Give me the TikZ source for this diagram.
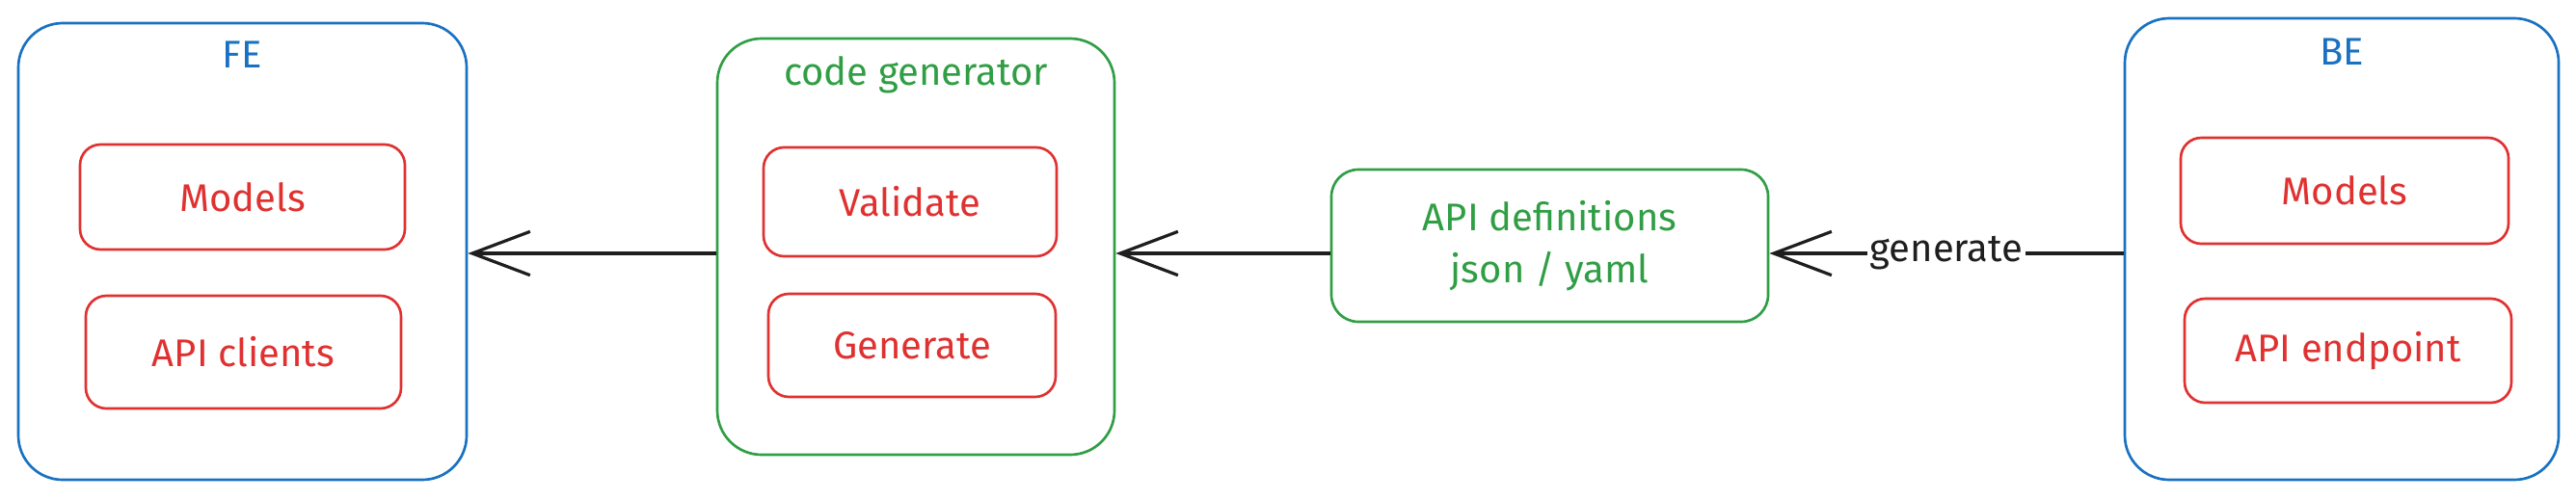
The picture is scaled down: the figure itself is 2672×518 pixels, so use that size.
\documentclass[tikz,border=0pt]{standalone}
\usepackage{fontspec}
\setmainfont{Fira Sans}
\usetikzlibrary{arrows.meta}
\definecolor{exblue}{RGB}{25,113,194}
\definecolor{exgreen}{RGB}{47,158,68}
\definecolor{exred}{RGB}{224,49,49}
\definecolor{exink}{RGB}{30,30,30}
\tikzset{every picture/.style={line width=2pt},
  outerbox/.style={draw, rounded corners=34.5pt, inner sep=0pt},
  innerbox/.style={draw=exred, text=exred, rounded corners=16pt, inner sep=0pt},
  title/.style={anchor=base, inner sep=0pt},
  flow/.style={draw=exink, line width=2.4pt, -{Straight Barb[length=45pt,width=34pt]}}}

\begin{document}
\begin{tikzpicture}[x=0.75pt,y=0.75pt,yscale=-1,font=\fontsize{30}{40}\selectfont]
\useasboundingbox (0,0) rectangle (2672,518);
% FE
\node[outerbox, draw=exblue, minimum width=348.75pt, minimum height=355.5pt] (fe) at (251.5,261) {};
\node[title, text=exblue] (fetitle) at (251.5,70) {FE};
\node[innerbox, minimum width=252.75pt, minimum height=81.75pt] (femodels) at (251.5,204.5) {Models};
\node[innerbox, minimum width=245.25pt, minimum height=87.75pt] (feclients) at (252.5,365.5) {API clients};
% code generator
\node[outerbox, draw=exgreen, minimum width=309pt, minimum height=324pt] (cg) at (950,256) {};
\node[title, text=exgreen] (cgtitle) at (950,88) {code generator};
\node[innerbox, minimum width=228pt, minimum height=84.75pt] (validate) at (944,209.5) {Validate};
\node[innerbox, minimum width=223.5pt, minimum height=80.25pt] (generate) at (946,358.5) {Generate};
% API definitions
\node[outerbox, draw=exgreen, text=exgreen, rounded corners=21pt, align=center, minimum width=339.75pt, minimum height=118.5pt] (api) at (1607.5,255) {API definitions\\json / yaml};
% BE
\node[outerbox, draw=exblue, minimum width=337.5pt, minimum height=359.25pt] (be) at (2429,258.5) {};
\node[title, text=exblue] (betitle) at (2429,67) {BE};
\node[innerbox, minimum width=255pt, minimum height=82.5pt] (bemodels) at (2432,198) {Models};
\node[innerbox, minimum width=254.25pt, minimum height=81pt] (beendpoint) at (2435.5,364) {API endpoint};
% arrows
\coordinate (row) at (0,263);
\draw[flow] (cg.west |- row) -- (fe.east |- row);
\draw[flow] (api.west |- row) -- (cg.east |- row);
\draw[flow] (be.west |- row) -- node[fill=white, text=exink, inner sep=2pt] (genlabel) {generate} (api.east |- row);
\end{tikzpicture}
\end{document}
